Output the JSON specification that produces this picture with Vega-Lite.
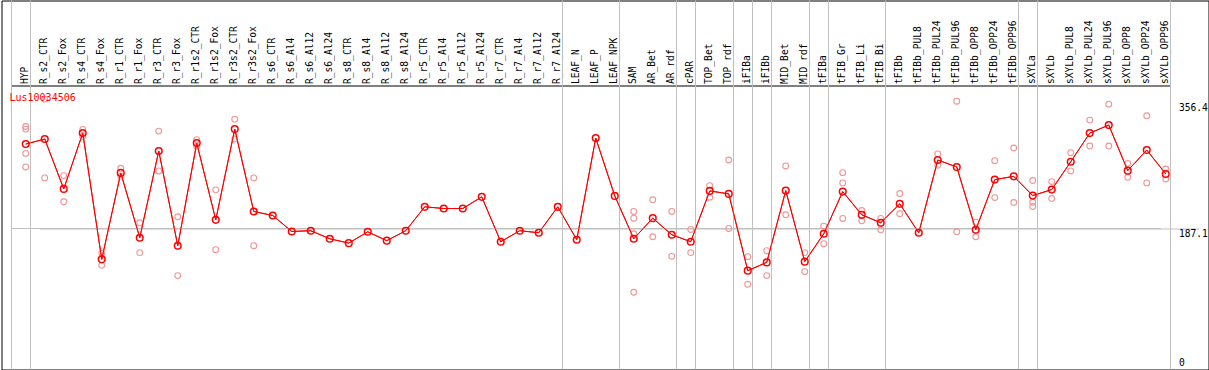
{
  "$schema": "https://vega.github.io/schema/vega-lite/v6.json",
  "width": 1207,
  "height": 369,
  "autosize": {"type": "none"},
  "padding": {"left": 1.5, "top": 0.5, "right": 0, "bottom": 0},
  "background": "white",
  "config": {
    "view": {"stroke": "black", "strokeWidth": 1},
    "font": "DejaVu Sans Mono"
  },
  "title": {
    "text": "Lus10034506",
    "anchor": "start",
    "frame": "group",
    "orient": "top",
    "color": "#ff0000",
    "font": "DejaVu Sans Mono",
    "fontSize": 10,
    "fontWeight": "normal",
    "baseline": "middle",
    "offset": 0,
    "dx": 8,
    "dy": 108
  },
  "datasets": {
    "means": [
      {"i": 1, "name": "HYP", "mean": 300.8},
      {"i": 2, "name": "R_s2_CTR", "mean": 307.5},
      {"i": 3, "name": "R_s2_Fox", "mean": 240.4},
      {"i": 4, "name": "R_s4_CTR", "mean": 315.5},
      {"i": 5, "name": "R_s4_Fox", "mean": 145.6},
      {"i": 6, "name": "R_r1_CTR", "mean": 261.9},
      {"i": 7, "name": "R_r1_Fox", "mean": 174.7},
      {"i": 8, "name": "R_r3_CTR", "mean": 291.4},
      {"i": 9, "name": "R_r3_Fox", "mean": 163.9},
      {"i": 10, "name": "R_r1s2_CTR", "mean": 302.1},
      {"i": 11, "name": "R_r1s2_Fox", "mean": 198.8},
      {"i": 12, "name": "R_r3s2_CTR", "mean": 320.9},
      {"i": 13, "name": "R_r3s2_Fox", "mean": 210.0},
      {"i": 14, "name": "R_s6_CTR", "mean": 204.6},
      {"i": 15, "name": "R_s6_Al4", "mean": 183.1},
      {"i": 16, "name": "R_s6_Al12", "mean": 184.1},
      {"i": 17, "name": "R_s6_Al24", "mean": 173.3},
      {"i": 18, "name": "R_s8_CTR", "mean": 167.4},
      {"i": 19, "name": "R_s8_Al4", "mean": 182.7},
      {"i": 20, "name": "R_s8_Al12", "mean": 170.7},
      {"i": 21, "name": "R_s8_Al24", "mean": 184.1},
      {"i": 22, "name": "R_r5_CTR", "mean": 216.3},
      {"i": 23, "name": "R_r5_Al4", "mean": 214.0},
      {"i": 24, "name": "R_r5_Al12", "mean": 214.0},
      {"i": 25, "name": "R_r5_Al24", "mean": 229.7},
      {"i": 26, "name": "R_r7_CTR", "mean": 169.3},
      {"i": 27, "name": "R_r7_Al4", "mean": 184.1},
      {"i": 28, "name": "R_r7_Al12", "mean": 181.4},
      {"i": 29, "name": "R_r7_Al24", "mean": 216.3},
      {"i": 30, "name": "LEAF_N", "mean": 172.0},
      {"i": 31, "name": "LEAF_P", "mean": 308.8},
      {"i": 32, "name": "LEAF_NPK", "mean": 231.0},
      {"i": 33, "name": "SAM", "mean": 173.3},
      {"i": 34, "name": "AR_Bet", "mean": 201.0},
      {"i": 35, "name": "AR_rdf", "mean": 178.7},
      {"i": 36, "name": "cPAR", "mean": 169.3},
      {"i": 37, "name": "TOP_Bet", "mean": 237.7},
      {"i": 38, "name": "TOP_rdf", "mean": 233.7},
      {"i": 39, "name": "iFIBa", "mean": 130.4},
      {"i": 40, "name": "iFIBb", "mean": 141.5},
      {"i": 41, "name": "MID_Bet", "mean": 238.1},
      {"i": 42, "name": "MID_rdf", "mean": 142.5},
      {"i": 43, "name": "tFIBa", "mean": 180.0},
      {"i": 44, "name": "tFIB_Gr", "mean": 236.8},
      {"i": 45, "name": "tFIB_Li", "mean": 205.5},
      {"i": 46, "name": "tFIB_Bi", "mean": 194.8},
      {"i": 47, "name": "tFIBb", "mean": 220.3},
      {"i": 48, "name": "tFIBb_PUL8", "mean": 181.4},
      {"i": 49, "name": "tFIBb_PUL24", "mean": 279.3},
      {"i": 50, "name": "tFIBb_PUL96", "mean": 269.9},
      {"i": 51, "name": "tFIBb_OPP8", "mean": 185.4},
      {"i": 52, "name": "tFIBb_OPP24", "mean": 252.9},
      {"i": 53, "name": "tFIBb_OPP96", "mean": 257.3},
      {"i": 54, "name": "sXYLa", "mean": 231.4},
      {"i": 55, "name": "sXYLb", "mean": 239.5},
      {"i": 56, "name": "sXYLb_PUL8", "mean": 277.0},
      {"i": 57, "name": "sXYLb_PUL24", "mean": 315.5},
      {"i": 58, "name": "sXYLb_PUL96", "mean": 326.3},
      {"i": 59, "name": "sXYLb_OPP8", "mean": 265.0},
      {"i": 60, "name": "sXYLb_OPP24", "mean": 292.7},
      {"i": 61, "name": "sXYLb_OPP96", "mean": 260.5}
    ],
    "reps": [
      {"name": "HYP", "v": 324.4}, {"name": "HYP", "v": 320.9}, {"name": "HYP", "v": 288.2}, {"name": "HYP", "v": 269.9},
      {"name": "R_s2_CTR", "v": 361.2}, {"name": "R_s2_CTR", "v": 255.2},
      {"name": "R_s2_Fox", "v": 258.3}, {"name": "R_s2_Fox", "v": 223.0},
      {"name": "R_s4_CTR", "v": 320.4}, {"name": "R_s4_CTR", "v": 311.0},
      {"name": "R_s4_Fox", "v": 154.0}, {"name": "R_s4_Fox", "v": 137.5},
      {"name": "R_r1_CTR", "v": 268.1}, {"name": "R_r1_CTR", "v": 257.3},
      {"name": "R_r1_Fox", "v": 194.8}, {"name": "R_r1_Fox", "v": 154.6},
      {"name": "R_r3_CTR", "v": 318.2}, {"name": "R_r3_CTR", "v": 264.6},
      {"name": "R_r3_Fox", "v": 202.9}, {"name": "R_r3_Fox", "v": 123.7},
      {"name": "R_r1s2_CTR", "v": 306.6}, {"name": "R_r1s2_CTR", "v": 297.6},
      {"name": "R_r1s2_Fox", "v": 239.1}, {"name": "R_r1s2_Fox", "v": 158.6},
      {"name": "R_r3s2_CTR", "v": 334.3}, {"name": "R_r3s2_CTR", "v": 307.5},
      {"name": "R_r3s2_Fox", "v": 255.2}, {"name": "R_r3s2_Fox", "v": 163.9},
      {"name": "SAM", "v": 210.0}, {"name": "SAM", "v": 201.0}, {"name": "SAM", "v": 180.0}, {"name": "SAM", "v": 101.3},
      {"name": "AR_Bet", "v": 225.7}, {"name": "AR_Bet", "v": 176.0},
      {"name": "AR_rdf", "v": 210.0}, {"name": "AR_rdf", "v": 149.6},
      {"name": "cPAR", "v": 185.8}, {"name": "cPAR", "v": 154.6},
      {"name": "TOP_Bet", "v": 244.8}, {"name": "TOP_Bet", "v": 229.2},
      {"name": "TOP_rdf", "v": 279.3}, {"name": "TOP_rdf", "v": 187.2},
      {"name": "iFIBa", "v": 149.2}, {"name": "iFIBa", "v": 112.0},
      {"name": "iFIBb", "v": 157.2}, {"name": "iFIBb", "v": 123.7},
      {"name": "MID_Bet", "v": 271.3}, {"name": "MID_Bet", "v": 205.5},
      {"name": "MID_rdf", "v": 154.6}, {"name": "MID_rdf", "v": 129.1},
      {"name": "tFIBa", "v": 190.2}, {"name": "tFIBa", "v": 166.6},
      {"name": "tFIB_Gr", "v": 262.3}, {"name": "tFIB_Gr", "v": 248.5}, {"name": "tFIB_Gr", "v": 200.6},
      {"name": "tFIB_Li", "v": 211.3}, {"name": "tFIB_Li", "v": 197.5},
      {"name": "tFIB_Bi", "v": 200.6}, {"name": "tFIB_Bi", "v": 185.4},
      {"name": "tFIBb", "v": 234.1}, {"name": "tFIBb", "v": 206.9},
      {"name": "tFIBb_PUL24", "v": 287.4}, {"name": "tFIBb_PUL24", "v": 272.1},
      {"name": "tFIBb_PUL96", "v": 358.5}, {"name": "tFIBb_PUL96", "v": 182.7},
      {"name": "tFIBb_OPP8", "v": 195.6}, {"name": "tFIBb_OPP8", "v": 176.0},
      {"name": "tFIBb_OPP24", "v": 278.4}, {"name": "tFIBb_OPP24", "v": 228.7},
      {"name": "tFIBb_OPP96", "v": 295.4}, {"name": "tFIBb_OPP96", "v": 222.0},
      {"name": "sXYLa", "v": 251.6}, {"name": "sXYLa", "v": 222.4}, {"name": "sXYLa", "v": 216.7},
      {"name": "sXYLb", "v": 250.2}, {"name": "sXYLb", "v": 227.4},
      {"name": "sXYLb_PUL8", "v": 289.1}, {"name": "sXYLb_PUL8", "v": 264.6},
      {"name": "sXYLb_PUL24", "v": 333.0}, {"name": "sXYLb_PUL24", "v": 298.1},
      {"name": "sXYLb_PUL96", "v": 354.5}, {"name": "sXYLb_PUL96", "v": 298.1},
      {"name": "sXYLb_OPP8", "v": 274.8}, {"name": "sXYLb_OPP8", "v": 256.0},
      {"name": "sXYLb_OPP24", "v": 338.8}, {"name": "sXYLb_OPP24", "v": 248.5},
      {"name": "sXYLb_OPP96", "v": 267.2}, {"name": "sXYLb_OPP96", "v": 253.8}
    ],
    "seps": [
      {"name": "HYP"}, {"name": "R_r7_Al24"}, {"name": "LEAF_NPK"}, {"name": "AR_rdf"},
      {"name": "cPAR"}, {"name": "TOP_rdf"}, {"name": "iFIBa"}, {"name": "iFIBb"},
      {"name": "MID_rdf"}, {"name": "tFIBa"}, {"name": "tFIB_Bi"}, {"name": "tFIBb_OPP96"},
      {"name": "sXYLa"}, {"name": "sXYLb_OPP96"}
    ],
    "first": [{"name": "HYP"}],
    "hgrid": [{"from": "HYP", "last": "sXYLb_OPP96", "v": 187.1}]
  },
  "layer": [
    {
      "data": {"name": "means"},
      "mark": {"type": "line", "color": "#ff0000", "strokeWidth": 1},
      "encoding": {
        "x": {
          "field": "name",
          "type": "nominal",
          "bandPosition": 0.75,
          "scale": {
            "type": "band",
            "domain": ["HYP","R_s2_CTR","R_s2_Fox","R_s4_CTR","R_s4_Fox","R_r1_CTR","R_r1_Fox","R_r3_CTR","R_r3_Fox","R_r1s2_CTR","R_r1s2_Fox","R_r3s2_CTR","R_r3s2_Fox","R_s6_CTR","R_s6_Al4","R_s6_Al12","R_s6_Al24","R_s8_CTR","R_s8_Al4","R_s8_Al12","R_s8_Al24","R_r5_CTR","R_r5_Al4","R_r5_Al12","R_r5_Al24","R_r7_CTR","R_r7_Al4","R_r7_Al12","R_r7_Al24","LEAF_N","LEAF_P","LEAF_NPK","SAM","AR_Bet","AR_rdf","cPAR","TOP_Bet","TOP_rdf","iFIBa","iFIBb","MID_Bet","MID_rdf","tFIBa","tFIB_Gr","tFIB_Li","tFIB_Bi","tFIBb","tFIBb_PUL8","tFIBb_PUL24","tFIBb_PUL96","tFIBb_OPP8","tFIBb_OPP24","tFIBb_OPP96","sXYLa","sXYLb","sXYLb_PUL8","sXYLb_PUL24","sXYLb_PUL96","sXYLb_OPP8","sXYLb_OPP24","sXYLb_OPP96"],
            "range": [10, 1169],
            "paddingInner": 0,
            "paddingOuter": 0
          },
          "axis": {
            "orient": "top",
            "offset": -85,
            "title": null,
            "ticks": false,
            "grid": false,
            "domain": true,
            "domainColor": "#000000",
            "domainWidth": 1,
            "labelAngle": -90,
            "labelAlign": "left",
            "labelBaseline": "middle",
            "labelPadding": 2,
            "labelOffset": 3.5,
            "labelFont": "DejaVu Sans Mono",
            "labelFontSize": 9.6,
            "labelColor": "#000000",
            "labelOverlap": false,
            "labelBound": false,
            "labelFlush": false
          }
        },
        "y": {
          "field": "mean",
          "type": "quantitative",
          "scale": {"domain": [-2.69, 494.0], "nice": false, "zero": false},
          "axis": {
            "orient": "right",
            "offset": -33,
            "title": null,
            "values": [0, 187.1, 356.4],
            "labelExpr": "datum.value == 0 ? '0' : format(datum.value, '.1f')",
            "ticks": false,
            "domain": false,
            "grid": true,
            "gridColor": "#c0c0c0",
            "gridWidth": 1,
            "gridOpacity": {"condition": {"test": "datum.value == 187.1", "value": 1}, "value": 0},
            "labelPadding": 3,
            "labelFont": "DejaVu Sans Mono",
            "labelFontSize": 9.6,
            "labelColor": "#000000",
            "labelAlign": "left",
            "labelBaseline": {"condition": {"test": "datum.value == 0", "value": "bottom"}, "value": "top"},
            "labelBound": false,
            "labelFlush": false,
            "labelOverlap": false
          }
        },
        "order": {"field": "i", "type": "quantitative"}
      }
    },
    {
      "data": {"name": "hgrid"},
      "mark": {"type": "rule", "color": "#c0c0c0", "strokeWidth": 1},
      "encoding": {
        "x": {"field": "from", "type": "nominal", "bandPosition": 0},
        "x2": {"field": "last"},
        "y": {"field": "v", "type": "quantitative"}
      }
    },
    {
      "data": {"name": "first"},
      "mark": {"type": "rule", "color": "#c0c0c0", "strokeWidth": 1},
      "encoding": {
        "x": {"field": "name", "type": "nominal", "bandPosition": 0}
      }
    },
    {
      "data": {"name": "seps"},
      "mark": {"type": "rule", "color": "#c0c0c0", "strokeWidth": 1},
      "encoding": {
        "x": {"field": "name", "type": "nominal", "bandPosition": 1}
      }
    },
    {
      "data": {"name": "reps"},
      "mark": {"type": "point", "shape": "circle", "filled": false, "color": "#f09696", "strokeWidth": 1.1, "size": 34, "opacity": 1},
      "encoding": {
        "x": {"field": "name", "type": "nominal", "bandPosition": 0.75},
        "y": {"field": "v", "type": "quantitative"}
      }
    },
    {
      "data": {"name": "means"},
      "mark": {"type": "line", "color": "#ff0000", "strokeWidth": 1},
      "encoding": {
        "x": {"field": "name", "type": "nominal", "bandPosition": 0.75},
        "y": {"field": "mean", "type": "quantitative"},
        "order": {"field": "i", "type": "quantitative"}
      }
    },
    {
      "data": {"name": "means"},
      "mark": {"type": "point", "shape": "circle", "filled": false, "color": "#ff0000", "strokeWidth": 1.5, "size": 44, "opacity": 1},
      "encoding": {
        "x": {"field": "name", "type": "nominal", "bandPosition": 0.75},
        "y": {"field": "mean", "type": "quantitative"}
      }
    }
  ]
}
